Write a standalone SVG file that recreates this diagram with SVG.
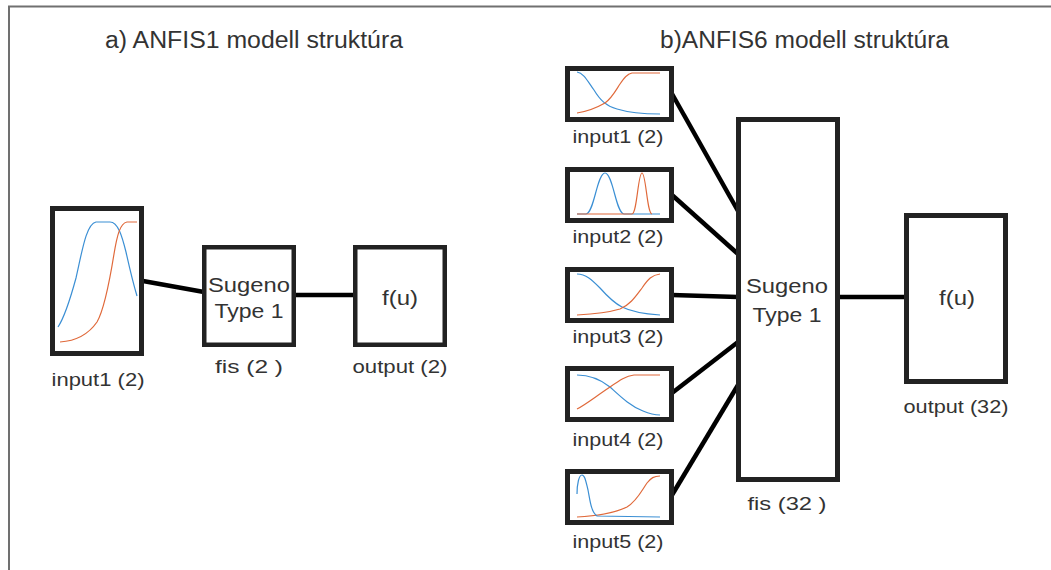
<svg xmlns="http://www.w3.org/2000/svg" width="1051" height="570" viewBox="0 0 1051 570">
  <style>
    .frame { fill: none; stroke: #707070; stroke-width: 2; }
    .box { fill: #ffffff; stroke: #222222; stroke-width: 5; }
    .box-thin { fill: #ffffff; stroke: #222222; stroke-width: 4.5; }
    .wire { stroke: #000000; stroke-width: 4.5; stroke-linecap: butt; fill: none; }
    .mf1 { fill: none; stroke: #3b8fd4; stroke-width: 1.2; }
    .mf2 { fill: none; stroke: #e0693a; stroke-width: 1.2; }
    text { font-family: "Liberation Sans", Arial, sans-serif; fill: #333333; text-anchor: middle; }
    .title { font-size: 23.5px; }
    .lbl { font-size: 19px; }
    .inner { font-size: 20px; }
  </style>

  <rect width="1051" height="570" fill="#ffffff"/>
  <!-- outer frame (left and top edges) -->
  <path class="frame" d="M9,570 V6.5 H1051"/>

  <!-- titles -->
  <text class="title" x="254" y="48" textLength="298" lengthAdjust="spacingAndGlyphs">a) ANFIS1 modell struktúra</text>
  <text class="title" x="804.5" y="48" textLength="289" lengthAdjust="spacingAndGlyphs">b)ANFIS6 modell struktúra</text>

  <!-- connectors -->
  <g id="connectors">
    <line class="wire" x1="143" y1="281" x2="204" y2="292"/>
    <line class="wire" x1="296" y1="295" x2="355" y2="295"/>
    <line class="wire" x1="671" y1="92" x2="738" y2="211"/>
    <line class="wire" x1="672" y1="195" x2="738" y2="254"/>
    <line class="wire" x1="672" y1="295" x2="738" y2="297"/>
    <line class="wire" x1="672" y1="393" x2="738" y2="342"/>
    <line class="wire" x1="672" y1="495" x2="738" y2="385"/>
    <line class="wire" x1="840" y1="297" x2="906" y2="297"/>
  </g>

  <!-- a) ANFIS1 -->
  <g id="a-input1">
    <rect class="box" x="52.5" y="208.5" width="89" height="145"/>
    <path class="mf1" d="M58,327 C64,318 70,300 76,278 C82,252 86,224 96,222 L110,222 C118,222 122,236 126,252 C130,270 134,286 137,296"/>
    <path class="mf2" d="M60,342 C75,341 88,335 97,322 C104,310 109,285 114,254 C117,236 120,223 127,222 L137,222"/>
    <text class="lbl" x="98" y="386" textLength="93" lengthAdjust="spacingAndGlyphs">input1 (2)</text>
  </g>
  <g id="a-fis">
    <rect class="box-thin" x="204.25" y="247.25" width="89.5" height="97.5"/>
    <text class="inner" x="249" y="292" textLength="82" lengthAdjust="spacingAndGlyphs">Sugeno</text>
    <text class="inner" x="249" y="318" textLength="69" lengthAdjust="spacingAndGlyphs">Type 1</text>
    <text class="lbl" x="249" y="373" textLength="68" lengthAdjust="spacingAndGlyphs">fis (2 )</text>
  </g>
  <g id="a-output">
    <rect class="box-thin" x="355.25" y="247.25" width="89.5" height="97.5"/>
    <text class="inner" x="400" y="305" textLength="36" lengthAdjust="spacingAndGlyphs">f(u)</text>
    <text class="lbl" x="400" y="373" textLength="95" lengthAdjust="spacingAndGlyphs">output (2)</text>
  </g>

  <!-- b) ANFIS6 -->
  <g id="b-input1">
    <rect class="box" x="567.5" y="68.5" width="104" height="51"/>
    <path class="mf1" d="M577,72 C584,73 588,82 594,90 C600,100 606,106 617,109 C630,113 645,114 660,114"/>
    <path class="mf2" d="M577,113 C590,111 598,107 605,103 C612,98 616,90 620,84 C624,78 627,74 632,73 L660,73"/>
    <text class="lbl" x="618" y="143" textLength="91" lengthAdjust="spacingAndGlyphs">input1 (2)</text>
  </g>
  <g id="b-input2">
    <rect class="box" x="567.5" y="169.5" width="104" height="51"/>
    <path class="mf1" d="M577,214 L586,214 C594,214 597,173 605,173 C613,173 616,214 624,214 L660,214"/>
    <path class="mf2" d="M577,214 L632,214 C637,214 638,173 642,173 C646,173 647,214 652,214"/>
    <text class="lbl" x="618" y="243" textLength="91" lengthAdjust="spacingAndGlyphs">input2 (2)</text>
  </g>
  <g id="b-input3">
    <rect class="box" x="567.5" y="269.5" width="104" height="51"/>
    <path class="mf1" d="M577,274 C586,274 592,280 600,288 C608,297 614,303 622,307 C632,312 645,314 660,315"/>
    <path class="mf2" d="M577,315 C595,314 610,312 620,309 C630,305 636,296 642,288 C648,279 652,275 660,274"/>
    <text class="lbl" x="618" y="343" textLength="91" lengthAdjust="spacingAndGlyphs">input3 (2)</text>
  </g>
  <g id="b-input4">
    <rect class="box" x="567.5" y="368.5" width="104" height="51"/>
    <path class="mf1" d="M577,375 C590,375 600,379 610,387 C620,396 630,406 643,411 C650,414 655,415 660,415"/>
    <path class="mf2" d="M577,409 C585,405 595,397 610,387 C620,380 626,376 634,375 L660,375"/>
    <text class="lbl" x="618" y="446" textLength="91" lengthAdjust="spacingAndGlyphs">input4 (2)</text>
  </g>
  <g id="b-input5">
    <rect class="box" x="567.5" y="471.5" width="104" height="51"/>
    <path class="mf2" d="M577,517 C595,516 615,513 627,507 C637,501 642,490 647,483 C651,478 654,476 660,476"/>
    <path class="mf1" d="M577,494 C577,484 579,475 582,475 C585,475 586,482 588,490 C590,500 591,512 597,516 L660,517"/>
    <text class="lbl" x="618" y="548" textLength="91" lengthAdjust="spacingAndGlyphs">input5 (2)</text>
  </g>
  <g id="b-fis">
    <rect class="box" x="738.5" y="119.5" width="99" height="360"/>
    <text class="inner" x="787" y="293" textLength="82" lengthAdjust="spacingAndGlyphs">Sugeno</text>
    <text class="inner" x="787" y="322" textLength="69" lengthAdjust="spacingAndGlyphs">Type 1</text>
    <text class="lbl" x="787" y="510" textLength="79" lengthAdjust="spacingAndGlyphs">fis (32 )</text>
  </g>
  <g id="b-output">
    <rect class="box" x="906.5" y="215.5" width="99" height="166"/>
    <text class="inner" x="957" y="305" textLength="36" lengthAdjust="spacingAndGlyphs">f(u)</text>
    <text class="lbl" x="956" y="413" textLength="105" lengthAdjust="spacingAndGlyphs">output (32)</text>
  </g>
</svg>
